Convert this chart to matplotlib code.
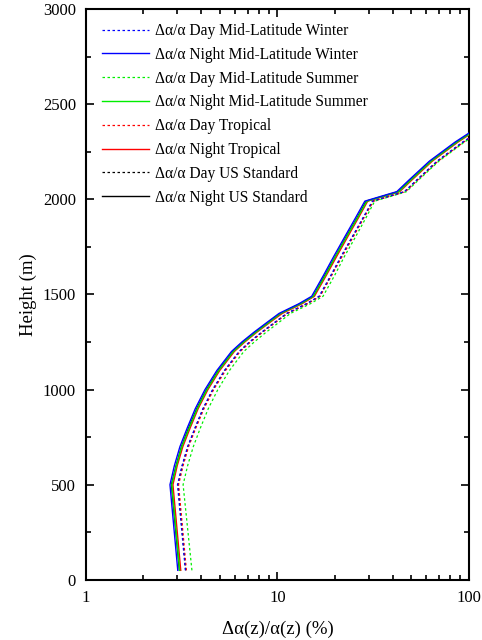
import numpy as np
import matplotlib.pyplot as plt
from matplotlib.ticker import FixedLocator, NullFormatter

plt.rcParams['font.family'] = ['Liberation Serif', 'DejaVu Serif']

# heights (m)
heights = [50, 500, 600, 700, 800, 900, 1000, 1100, 1200, 1250, 1300, 1350, 1400, 1450, 1490,
           1600, 1700, 1800, 1900, 1990, 2040, 2100, 2200, 2300, 2400]

# relative error (%) for each atmosphere model
day_mlw = [3.31, 3.01, 3.18, 3.40, 3.72, 4.09, 4.59, 5.29, 6.31, 7.15, 8.24, 9.60, 11.2, 14.1, 16.5,
           19.0, 21.5, 24.5, 27.9, 31.3, 46.0, 53.2, 68.1, 92.6, 132]
night_mlw = [3.02, 2.75, 2.90, 3.10, 3.39, 3.73, 4.19, 4.83, 5.76, 6.53, 7.52, 8.75, 10.2, 12.9, 15.1,
             17.4, 19.7, 22.4, 25.5, 28.6, 42.0, 48.5, 62.1, 84.5, 120]
day_mls = [3.58, 3.22, 3.40, 3.64, 3.97, 4.36, 4.89, 5.62, 6.68, 7.57, 8.70, 10.1, 11.7, 14.8, 17.3,
           19.9, 22.4, 25.5, 28.9, 32.2, 47.2, 54.4, 69.6, 94.5, 135]
night_mls = [3.09, 2.81, 2.97, 3.17, 3.47, 3.82, 4.29, 4.94, 5.89, 6.68, 7.69, 8.95, 10.4, 13.2, 15.4,
             17.8, 20.1, 22.9, 26.1, 29.3, 43.0, 49.6, 63.5, 86.4, 123]
day_trop = [3.35, 3.05, 3.22, 3.44, 3.76, 4.14, 4.65, 5.36, 6.39, 7.24, 8.34, 9.70, 11.3, 14.3, 16.7,
            19.2, 21.8, 24.8, 28.2, 31.7, 46.6, 53.8, 68.9, 93.7, 133]
night_trop = [3.13, 2.85, 3.00, 3.21, 3.51, 3.86, 4.34, 5.00, 5.96, 6.76, 7.78, 9.06, 10.6, 13.4, 15.6,
              18.0, 20.4, 23.2, 26.4, 29.6, 43.5, 50.2, 64.3, 87.5, 124]
day_us = [3.32, 3.03, 3.19, 3.41, 3.73, 4.10, 4.61, 5.31, 6.34, 7.18, 8.27, 9.62, 11.2, 14.2, 16.6,
          19.1, 21.6, 24.6, 28.0, 31.5, 46.2, 53.4, 68.3, 93.0, 132]
night_us = [3.08, 2.80, 2.96, 3.16, 3.45, 3.80, 4.27, 4.92, 5.87, 6.65, 7.66, 8.92, 10.4, 13.1, 15.4,
            17.7, 20.1, 22.8, 26.0, 29.1, 42.8, 49.4, 63.3, 86.1, 122]

labels = ['Δα/α Day Mid-Latitude Winter', 'Δα/α Night Mid-Latitude Winter',
          'Δα/α Day Mid-Latitude Summer', 'Δα/α Night Mid-Latitude Summer',
          'Δα/α Day Tropical', 'Δα/α Night Tropical',
          'Δα/α Day US Standard', 'Δα/α Night US Standard']
series = [day_mlw, night_mlw, day_mls, night_mls, day_trop, night_trop, day_us, night_us]
colors = ['#0000ff', '#0000ff', '#00ee00', '#00ee00', '#ff0000', '#ff0000', '#000000', '#000000']

fig = plt.figure(figsize=(4.82, 6.4), dpi=100)
ax = fig.add_axes([0.178, 0.094, 0.795, 0.892])

for i, (vals, lab, col) in enumerate(zip(series, labels, colors)):
    z = 10 - i  # first series drawn on top
    if 'Day' in lab:
        ax.plot(vals, heights, color=col, lw=0.9, linestyle=(0, (2, 2)), label=lab, zorder=z)
    else:
        ax.plot(vals, heights, color=col, lw=1.0, label=lab, zorder=z)

ax.set_xscale('log')
ax.set_xlim(1, 100)
ax.set_ylim(0, 3000)
ax.set_xticks([1, 10, 100])
ax.set_xticklabels(['1', '10', '100'])
ax.xaxis.set_minor_locator(FixedLocator([m * d for d in (1, 10) for m in range(2, 10)]))
ax.xaxis.set_minor_formatter(NullFormatter())
ax.set_yticks(np.arange(0, 3001, 500))
ax.yaxis.set_minor_locator(FixedLocator(np.arange(250, 3000, 500)))

ax.tick_params(which='both', direction='in', top=True, right=True, labelsize=12, width=1.2)
ax.tick_params(which='major', length=6)
ax.tick_params(which='minor', length=3.5)
ax.tick_params(axis='x', which='major', pad=7)
ax.tick_params(axis='y', which='major', pad=7)
for sp in ax.spines.values():
    sp.set_linewidth(1.5)

ax.set_xlabel('Δα(z)/α(z) (%)', fontsize=13.5, labelpad=11)
ax.set_ylabel('Height (m)', fontsize=13.5, labelpad=4)

ax.legend(loc='upper left', bbox_to_anchor=(0.01, 0.997), frameon=False, fontsize=11.2,
          handlelength=3.0, handletextpad=0.4, labelspacing=0.5, borderaxespad=0.4)

fig.savefig('out.png', dpi=100)
